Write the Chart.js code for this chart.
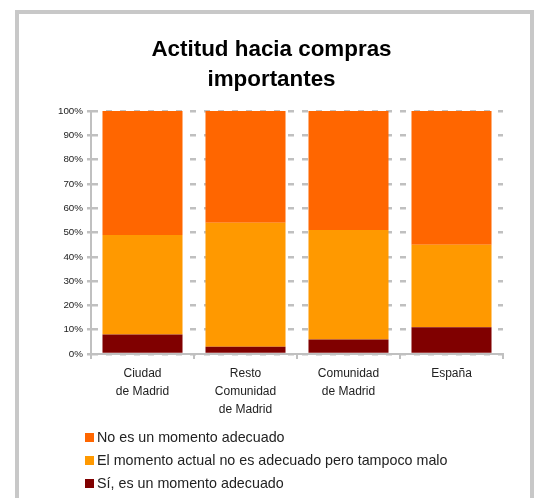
<!DOCTYPE html>
<html>
<head>
<meta charset="utf-8">
<script src="https://cdn.jsdelivr.net/npm/chart.js@4"></script>
<style>
  body { margin: 0; background: #fff; }
  #marco { position: absolute; left: 15px; top: 10px; width: 511px; height: 600px; border: 4px solid #c8c8c8; }
  #chart { position: absolute; left: 0; top: 0; }
</style>
</head>
<body>
<div id="marco"></div>
<canvas id="chart" width="538" height="498"></canvas>
<script>
// datos de la gráfica (porcentajes)
const categorias = [["Ciudad", "de Madrid"], ["Resto", "Comunidad", "de Madrid"], ["Comunidad", "de Madrid"], ["España"]];
const siAdecuado = [8, 3, 6, 11];
const niAdecuadoNiMalo = [41, 51, 45, 34];
const noAdecuado = [51, 46, 49, 55];
const ticksY = [0, 10, 20, 30, 40, 50, 60, 70, 80, 90, 100];

const gris = "#c0c0c0";
const fuente = "'Liberation Sans', Arial, sans-serif";

// leyenda vertical dibujada a mano, en orden inverso
const leyenda = {
  id: "leyenda",
  afterDraw(chart) {
    const ctx = chart.ctx;
    const base = chart.chartArea.bottom;
    const items = chart.data.datasets.slice().reverse();
    ctx.save();
    ctx.font = "14.3px " + fuente;
    ctx.textBaseline = "middle";
    items.forEach((ds, i) => {
      const y = base + 83 + i * 23;
      ctx.fillStyle = ds.backgroundColor;
      ctx.fillRect(85, y - 4, 9, 9);
      ctx.fillStyle = "#222";
      ctx.fillText(ds.label, 97, y + 1);
    });
    ctx.restore();
  }
};

const data = {
  labels: categorias,
  datasets: [
    { label: "Sí, es un momento adecuado", data: siAdecuado, backgroundColor: "#800000" },
    { label: "El momento actual no es adecuado pero tampoco malo", data: niAdecuadoNiMalo, backgroundColor: "#ff9900" },
    { label: "No es un momento adecuado", data: noAdecuado, backgroundColor: "#ff6600" },
  ],
};

new Chart(document.getElementById("chart").getContext("2d"), {
  type: "bar",
  data: data,
  plugins: [leyenda],
  options: {
    responsive: false,
    animation: false,
    categoryPercentage: 1,
    barPercentage: 0.777,
    layout: { padding: { left: 40, right: 35, top: 0, bottom: 78 } },
    plugins: {
      legend: { display: false },
      tooltip: { enabled: false },
      title: {
        display: true,
        text: ["Actitud hacia compras", "importantes"],
        color: "#000",
        font: { family: fuente, size: 22.4, weight: "bold", lineHeight: 1.34 },
        padding: { top: 35, bottom: 16 },
      },
    },
    scales: {
      x: {
        stacked: true,
        grid: { offset: true, drawOnChartArea: false, drawTicks: true, tickLength: 5, color: gris, lineWidth: 2 },
        border: { display: true, color: gris, width: 2 },
        ticks: { color: "#222", padding: 6, font: { family: fuente, size: 12, lineHeight: 1.5 }, maxRotation: 0 },
        afterFit(scale) { scale.height = 66; },
      },
      y: {
        stacked: true,
        min: 0,
        max: 100,
        afterBuildTicks(scale) { scale.ticks = ticksY.map((v) => ({ value: v })); },
        grid: { color: gris, lineWidth: 2.5, tickLength: 4, tickBorderDash: [] },
        border: { display: true, color: gris, width: 2, dash: [6, 8] },
        ticks: { color: "#222", padding: 4, font: { family: fuente, size: 9.8 }, callback: (v) => v + "%" },
        afterFit(scale) { scale.width = 51; },
      },
    },
  },
});
</script>
</body>
</html>
